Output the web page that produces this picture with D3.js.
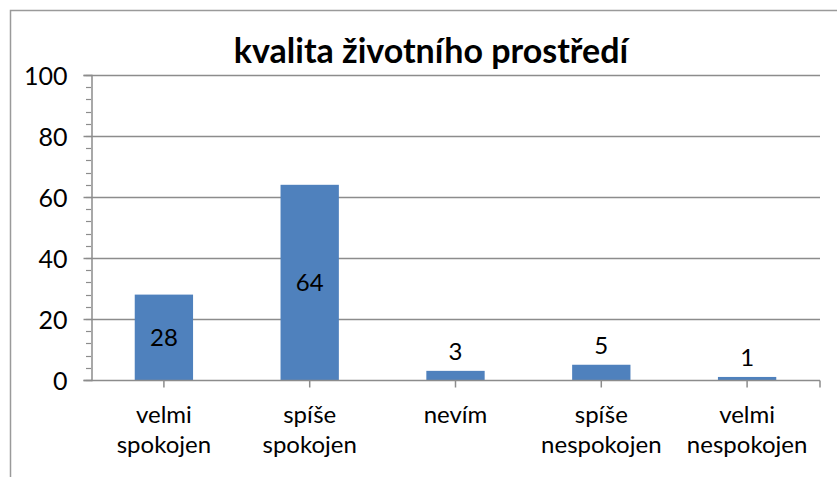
<!DOCTYPE html>
<html>
<head>
<meta charset="utf-8">
<script src="https://cdn.jsdelivr.net/npm/d3@7"></script>
<style>
  body { margin: 0; background: #fff; }
  text { font-family: Lato, "Noto Sans", sans-serif; fill: #000; }
</style>
</head>
<body>
<div id="chart"></div>
<script>
// data
var categories = [["velmi", "spokojen"], ["spíše", "spokojen"], ["nevím"], ["spíše", "nespokojen"], ["velmi", "nespokojen"]];
var values = [28, 64, 3, 5, 1];
var yTicks = [0, 20, 40, 60, 80, 100];
var title = "kvalita životního prostředí";

var width = 837, height = 477;
var margin = {left: 91, right: 17, top: 75, bottom: 97};

var svg = d3.select("#chart").append("svg")
    .attr("width", width)
    .attr("height", height);

// outer chart border (cut off at right/bottom)
svg.append("rect")
    .attr("x", 10.5).attr("y", 10.5)
    .attr("width", 900).attr("height", 600)
    .attr("fill", "none")
    .attr("stroke", "#9a9a9a")
    .attr("stroke-width", 1.5);

var x = d3.scaleBand()
    .domain(d3.range(categories.length))
    .range([margin.left, width - margin.right]);

var y = d3.scaleLinear()
    .domain([0, 100])
    .range([height - margin.bottom, margin.top]);

// title
svg.append("text")
    .attr("x", 431).attr("y", 63)
    .attr("text-anchor", "middle")
    .style("font-weight", "bold")
    .style("font-size", "34px")
    .text(title);

// gridlines
svg.append("g").selectAll("line")
    .data(yTicks.slice(1))
    .enter().append("line")
    .attr("x1", margin.left).attr("x2", width - margin.right)
    .attr("y1", function(d){ return Math.round(y(d)) + 0.5; })
    .attr("y2", function(d){ return Math.round(y(d)) + 0.5; })
    .attr("stroke", "#8c8c8c")
    .attr("stroke-width", 1.5);

// minor ticks every 4
var minor = d3.range(0, 101, 4);
svg.append("g").selectAll("line")
    .data(minor)
    .enter().append("line")
    .attr("x1", margin.left - 5).attr("x2", margin.left)
    .attr("y1", function(d){ return Math.round(y(d)) + 0.5; })
    .attr("y2", function(d){ return Math.round(y(d)) + 0.5; })
    .attr("stroke", "#8c8c8c")
    .attr("stroke-width", 1.2);

// y axis
var yAxis = d3.axisLeft(y).tickValues(yTicks).tickSize(8).tickPadding(16);
var gy = svg.append("g")
    .attr("transform", "translate(" + (margin.left + 0.5) + ",0)")
    .call(yAxis);
gy.select(".domain").attr("stroke", "#8c8c8c").attr("stroke-width", 1.5);
gy.selectAll(".tick line").attr("stroke", "#8c8c8c").attr("stroke-width", 1.5);
gy.selectAll(".tick text")
    .style("font-size", "25px")
    .attr("dy", "0.36em");

// bars
svg.append("g").selectAll("rect")
    .data(values)
    .enter().append("rect")
    .attr("x", function(d, i){ return x(i) + x.bandwidth() * 0.3; })
    .attr("width", x.bandwidth() * 0.4)
    .attr("y", function(d){ return y(d); })
    .attr("height", function(d){ return y(0) - y(d); })
    .attr("fill", "#4f81bd");

// x axis
var gx = svg.append("g")
    .attr("transform", "translate(0," + (Math.round(y(0)) + 0.5) + ")");
gx.append("line")
    .attr("x1", margin.left).attr("x2", width - margin.right)
    .attr("stroke", "#8c8c8c").attr("stroke-width", 1.5);
gx.selectAll(".ctick")
    .data(d3.range(categories.length))
    .enter().append("line")
    .attr("class", "ctick")
    .attr("x1", function(i){ return x(i) + x.bandwidth() / 2; })
    .attr("x2", function(i){ return x(i) + x.bandwidth() / 2; })
    .attr("y1", 0).attr("y2", 7)
    .attr("stroke", "#8c8c8c").attr("stroke-width", 1.5);
gx.append("line")
    .attr("x1", width - margin.right).attr("x2", width - margin.right)
    .attr("y1", 0).attr("y2", 7)
    .attr("stroke", "#8c8c8c").attr("stroke-width", 1.5);

// category labels
var labels = svg.append("g").selectAll("text")
    .data(categories)
    .enter().append("text")
    .attr("text-anchor", "middle")
    .style("font-size", "24px");
labels.each(function(lines, i) {
    var t = d3.select(this);
    lines.forEach(function(line, k) {
        t.append("tspan")
            .attr("x", x(i) + x.bandwidth() / 2)
            .attr("y", 423 + k * 30)
            .text(line);
    });
});

// data labels
svg.append("g").selectAll("text")
    .data(values)
    .enter().append("text")
    .attr("text-anchor", "middle")
    .style("font-size", "24px")
    .attr("x", function(d, i){ return x(i) + x.bandwidth() / 2; })
    .attr("y", function(d){
        return d > 10 ? (y(d) + y(0)) / 2 + 9 : y(d) - 11;
    })
    .text(function(d){ return d; });
</script>
</body>
</html>
